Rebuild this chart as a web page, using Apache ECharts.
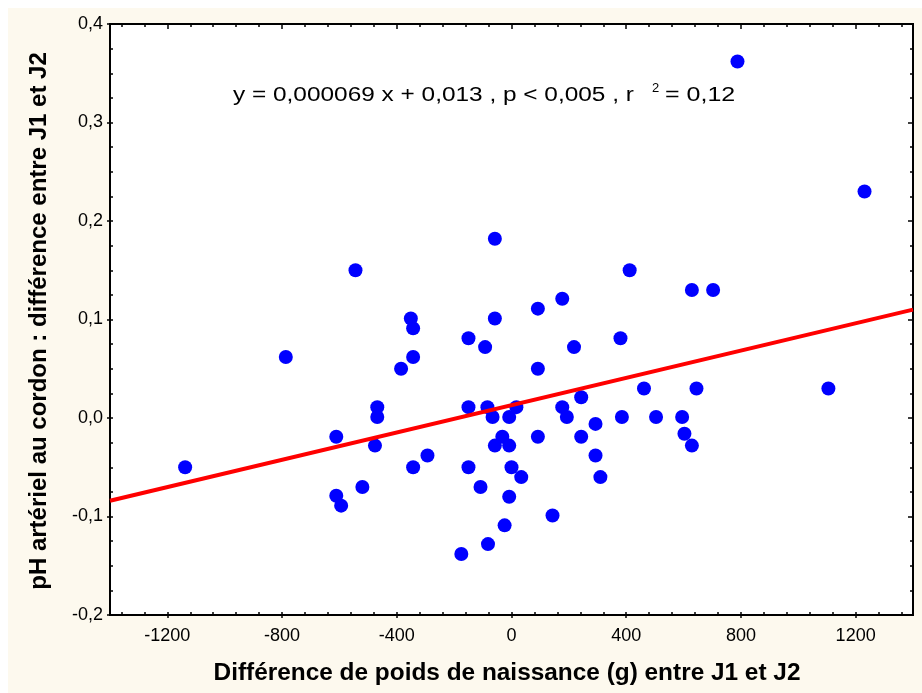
<!DOCTYPE html>
<html><head><meta charset="utf-8">
<script src="https://cdn.jsdelivr.net/npm/echarts@6/dist/echarts.min.js"></script>
<style>html,body{margin:0;padding:0;background:#fff}#c{width:922px;height:693px}</style>
</head><body><div id="c"></div>
<script>
// Birth-weight difference (g) between J1 and J2
const xValues = [-1138,-787,-544,-611,-611,-594,-520,-468,-468,-476,-385,-351,-343,-343,-343,-293,
  -150,-150,-150,-175,-108,-92,-84,-82,-66,-58,-58,-58,-32,-24,-8,-8,-8,0,17,34,
  92,92,92,143,177,177,193,218,243,243,293,293,310,380,385,412,462,504,595,603,629,629,645,703,788,1105,1231];
// Arterial cord pH difference between J1 and J2
const yValues = [-0.050,0.062,0.150,-0.019,-0.079,-0.089,-0.070,0.011,0.001,-0.028,0.050,0.101,0.091,0.062,-0.050,-0.038,
  0.081,0.011,-0.050,-0.138,-0.070,0.072,0.011,-0.128,0.001,0.182,0.101,-0.028,-0.019,-0.109,0.001,-0.028,-0.080,-0.050,0.011,-0.060,
  0.111,0.050,-0.019,-0.099,0.121,0.011,0.001,0.072,0.021,-0.019,-0.006,-0.038,-0.060,0.081,0.001,0.150,0.030,0.001,0.001,-0.016,-0.028,0.130,0.030,0.130,0.362,0.030,0.230];
// Regression line end points
const fitX = [-1400, 1400];
const fitY = [-0.084, 0.110];
const xTicks = [-1200,-800,-400,0,400,800,1200];
const xMinorTicks = [-1360,-1280,-1200,-1120,-1040,-960,-880,-800,-720,-640,-560,-480,-400,-320,-240,-160,-80,0,
  80,160,240,320,400,480,560,640,720,800,880,960,1040,1120,1200,1280,1360];
const xName = 'Différence de poids de naissance (g) entre J1 et J2';
const yName = 'pH artériel au cordon : différence entre J1 et J2';
const eqMain = 'y = 0,000069 x + 0,013 , p < 0,005 , r';
const eqSup = '2';
const eqEnd = '= 0,12';

const FONT = 'Liberation Sans, Arial, sans-serif';
const scatterData = xValues.map((x, i) => [x, yValues[i]]);
const fitData = fitX.map((x, i) => [x, fitY[i]]);

function xAx(pos, ticks, len, inside, showLabel) {
  return {
    type: 'value', position: pos, min: -1400, max: 1400,
    axisLine: { show: false, onZero: false },
    splitLine: { show: false },
    axisTick: { show: true, inside: inside, length: len, customValues: ticks, lineStyle: { color: '#000', width: 1.5 } },
    axisLabel: showLabel ? { customValues: ticks, fontSize: 18, color: '#000', margin: 12, fontFamily: FONT,
      formatter: v => String(v) } : { show: false }
  };
}
function yAx(pos, len, inside, minor, showLabel) {
  return {
    type: 'value', position: pos, min: -0.2, max: 0.4, interval: 0.1,
    axisLine: { show: false, onZero: false },
    splitLine: { show: false },
    axisTick: { show: true, inside: inside, length: len, lineStyle: { color: '#000', width: 1.5 } },
    minorTick: { show: minor, splitNumber: 4, length: 3, lineStyle: { color: '#000', width: 1.5 } },
    minorSplitLine: { show: false },
    axisLabel: showLabel ? { fontSize: 18, color: '#000', margin: 7, fontFamily: FONT,
      formatter: v => v.toFixed(1).replace('.', ',') } : { show: false }
  };
}

const chart = echarts.init(document.getElementById('c'), null, { renderer: 'canvas' });
chart.setOption({
  animation: false,
  backgroundColor: '#ffffff',
  grid: { left: 110, right: 9, top: 24, bottom: 78, show: true, backgroundColor: '#ffffff',
    borderColor: '#000', borderWidth: 2, outerBoundsMode: 'none' },
  xAxis: [
    xAx('bottom', xTicks, 3, false, true),
    xAx('bottom', xMinorTicks, 3, true, false),
    xAx('top', xTicks, 5, true, false),
    xAx('top', xMinorTicks, 3, true, false)
  ],
  yAxis: [
    yAx('left', 3, false, false, true),
    yAx('left', 3, true, true, false),
    yAx('right', 5, true, true, false)
  ],
  series: [
    { type: 'scatter', xAxisIndex: 0, yAxisIndex: 0, data: scatterData, symbol: 'circle', symbolSize: 14,
      itemStyle: { color: '#0000ff', opacity: 1 }, z: 2, silent: true },
    { type: 'line', xAxisIndex: 0, yAxisIndex: 0, data: fitData, symbol: 'none',
      lineStyle: { color: '#ff0000', width: 4 }, z: 3, silent: true }
  ],
  graphic: [
    { type: 'rect', z: -10, shape: { x: 8, y: 8, width: 914, height: 685 }, style: { fill: '#fdf9ee' } },
    { type: 'text', x: 507, y: 673, style: { text: xName, font: 'bold 24.4px ' + FONT, fill: '#000', align: 'center', verticalAlign: 'middle' } },
    { type: 'text', x: 39, y: 321, rotation: Math.PI / 2, style: { text: yName, font: 'bold 24px ' + FONT, fill: '#000', align: 'center', verticalAlign: 'middle' } },
    { type: 'text', x: 233, y: 95, scaleX: 1.22, style: { text: eqMain, font: '20px ' + FONT, fill: '#000', align: 'left', verticalAlign: 'middle' } },
    { type: 'text', x: 652, y: 88, style: { text: eqSup, font: '13px ' + FONT, fill: '#000', align: 'left', verticalAlign: 'middle' } },
    { type: 'text', x: 665, y: 95, scaleX: 1.25, style: { text: eqEnd, font: '20px ' + FONT, fill: '#000', align: 'left', verticalAlign: 'middle' } }
  ]
});
</script></body></html>
